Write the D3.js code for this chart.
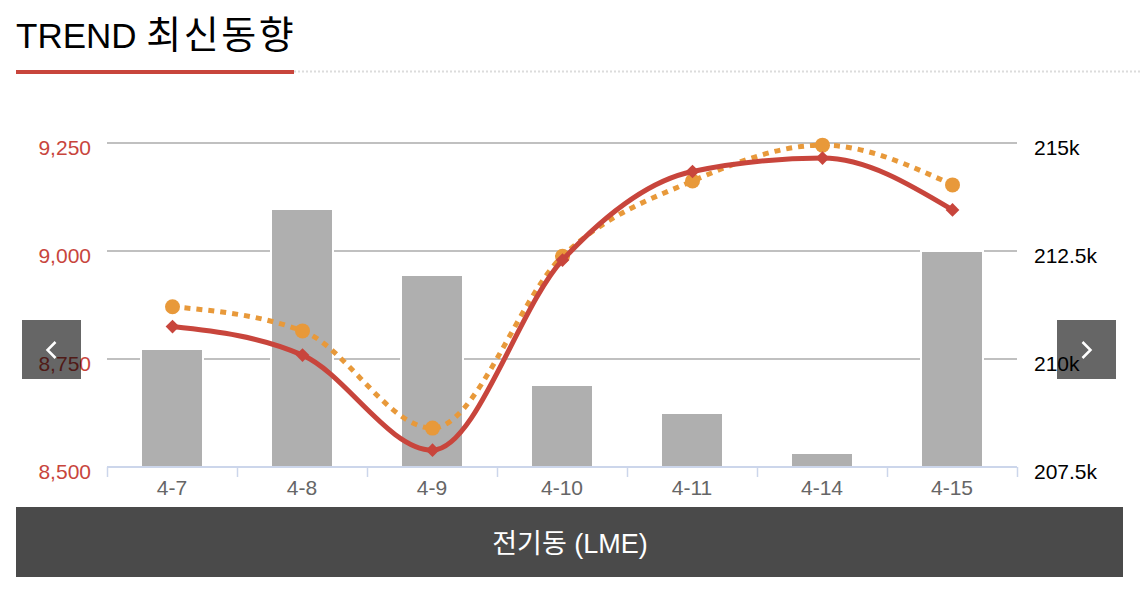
<!DOCTYPE html>
<html>
<head>
<meta charset="utf-8">
<script src="https://cdn.jsdelivr.net/npm/d3@7"></script>
<style>
  html, body { margin: 0; padding: 0; background: #fff; }
  svg { display: block; }
  text { font-family: "Liberation Sans", Arial, "Noto Sans CJK KR", sans-serif; }
</style>
</head>
<body>
<svg id="chart" width="1140" height="589"></svg>
<script>
// ---- data ----
const categories = ["4-7", "4-8", "4-9", "4-10", "4-11", "4-14", "4-15"];
const stockValues = [210208, 213449, 211921, 209375, 208727, 207801, 212477];   // bars, right axis
const cashPrice = [8825, 8759, 8539, 8979, 9184, 9215, 9095];                  // red line, left axis
const threeMonthPrice = [8871, 8815, 8590, 8988, 9162, 9245, 9153];            // orange dotted, left axis
const leftTicks = [8500, 8750, 9000, 9250];
const rightTicks = [207500, 210000, 212500, 215000];
const titleLatin = "TREND";
const titleKorean = "최신동향";
const footerText = "전기동 (LME)";

// ---- setup ----
const svg = d3.select("#chart");
const fontKR = '"Liberation Sans", Arial, "Noto Sans CJK KR", sans-serif';

// title
const title = svg.append("text").attr("x", 16).attr("y", 48)
  .attr("font-size", 35).attr("fill", "#000").style("font-family", fontKR);
title.append("tspan").text(titleLatin + " ");
title.append("tspan").attr("font-size", 38).attr("letter-spacing", 2.5).text(titleKorean);

svg.append("line").attr("x1", 294).attr("x2", 1140).attr("y1", 71.5).attr("y2", 71.5)
  .attr("stroke", "#dcdcdc").attr("stroke-width", 2).attr("stroke-dasharray", "2,2");
svg.append("rect").attr("x", 16).attr("y", 70).attr("width", 278).attr("height", 4).attr("fill", "#c8453c");

// scales
const x = d3.scaleBand().domain(categories).range([107, 1017]).padding(0);
const yL = d3.scaleLinear().domain([8500, 9250]).range([467, 143]);
const yR = d3.scaleLinear().domain([207500, 215000]).range([467, 143]);

// grid lines
svg.append("g").selectAll("line").data(leftTicks.slice(1)).join("line")
  .attr("x1", 107).attr("x2", 1017)
  .attr("y1", d => yL(d)).attr("y2", d => yL(d))
  .attr("stroke", "#c0c0c0").attr("stroke-width", 2);

// bars
const barW = 60;
svg.append("g").selectAll("rect").data(stockValues).join("rect")
  .attr("x", (d, i) => x(categories[i]) + x.bandwidth() / 2 - barW / 2 - 1)
  .attr("width", barW + 2)
  .attr("y", d => yR(d) - 1)
  .attr("height", d => yR(207500) - yR(d) + 1)
  .attr("fill", "#afafaf").attr("stroke", "#fff").attr("stroke-width", 2);

// x axis
const gx = svg.append("g").attr("transform", "translate(0,467)");
gx.append("line").attr("x1", 107).attr("x2", 1017).attr("y1", 0).attr("y2", 0)
  .attr("stroke", "#ccd6eb").attr("stroke-width", 2);
gx.selectAll("line.tk").data(d3.range(categories.length + 1)).join("line")
  .attr("class", "tk")
  .attr("x1", i => 107.5 + i * x.bandwidth()).attr("x2", i => 107.5 + i * x.bandwidth())
  .attr("y1", 0).attr("y2", 10).attr("stroke", "#ccd6eb").attr("stroke-width", 1.5);
gx.selectAll("text").data(categories).join("text")
  .attr("x", d => x(d) + x.bandwidth() / 2).attr("y", 28)
  .attr("text-anchor", "middle").attr("font-size", 21).attr("fill", "#666")
  .text(d => d);

// left axis labels
const fmtL = d3.format(",");
svg.append("g").selectAll("text").data(leftTicks).join("text")
  .attr("x", 91).attr("y", d => yL(d) + 12)
  .attr("text-anchor", "end").attr("font-size", 21).attr("fill", "#c8453c")
  .text(d => fmtL(d));

// right axis labels
const fmtR = d => (d / 1000) + "k";
svg.append("g").selectAll("text").data(rightTicks).join("text")
  .attr("x", 1034).attr("y", d => yR(d) + 12)
  .attr("text-anchor", "start").attr("font-size", 21).attr("fill", "#000")
  .text(fmtR);

// lines
const cx = (d, i) => x(categories[i]) + x.bandwidth() / 2 + 0.5;
const lineGen = d3.line().x(cx).y(d => yL(d)).curve(d3.curveMonotoneX);

svg.append("path").datum(threeMonthPrice).attr("d", lineGen)
  .attr("fill", "none").attr("stroke", "#e8993a").attr("stroke-width", 5)
  .attr("stroke-dasharray", "6,6");
svg.append("g").selectAll("circle").data(threeMonthPrice).join("circle")
  .attr("cx", cx).attr("cy", d => yL(d)).attr("r", 7.5).attr("fill", "#e8993a");

svg.append("path").datum(cashPrice).attr("d", lineGen)
  .attr("fill", "none").attr("stroke", "#c8453c").attr("stroke-width", 5);
const dia = d3.symbol().type(d3.symbolDiamond2).size(120);
svg.append("g").selectAll("path").data(cashPrice).join("path")
  .attr("transform", (d, i) => `translate(${cx(d, i)},${yL(d)})`)
  .attr("d", dia).attr("fill", "#c8453c");

// nav buttons
function navButton(x0, dir) {
  const g = svg.append("g");
  g.append("rect").attr("x", x0).attr("y", 320).attr("width", 59).attr("height", 59)
    .attr("fill", "#000").attr("fill-opacity", 0.6);
  const c = x0 + 29.5, cy = 350;
  const p = dir < 0
    ? `M${c + 4},${cy - 8} L${c - 4},${cy} L${c + 4},${cy + 8}`
    : `M${c - 4},${cy - 8} L${c + 4},${cy} L${c - 4},${cy + 8}`;
  g.append("path").attr("d", p).attr("fill", "none").attr("stroke", "#fff").attr("stroke-width", 2.5);
}
navButton(22, -1);
navButton(1057, 1);

// footer
svg.append("rect").attr("x", 16).attr("y", 507).attr("width", 1107).attr("height", 70).attr("fill", "#4a4a4a");
svg.append("text").attr("x", 570).attr("y", 553).attr("text-anchor", "middle")
  .attr("font-size", 27).attr("fill", "#fff").style("font-family", fontKR)
  .text(footerText);
</script>
</body>
</html>
